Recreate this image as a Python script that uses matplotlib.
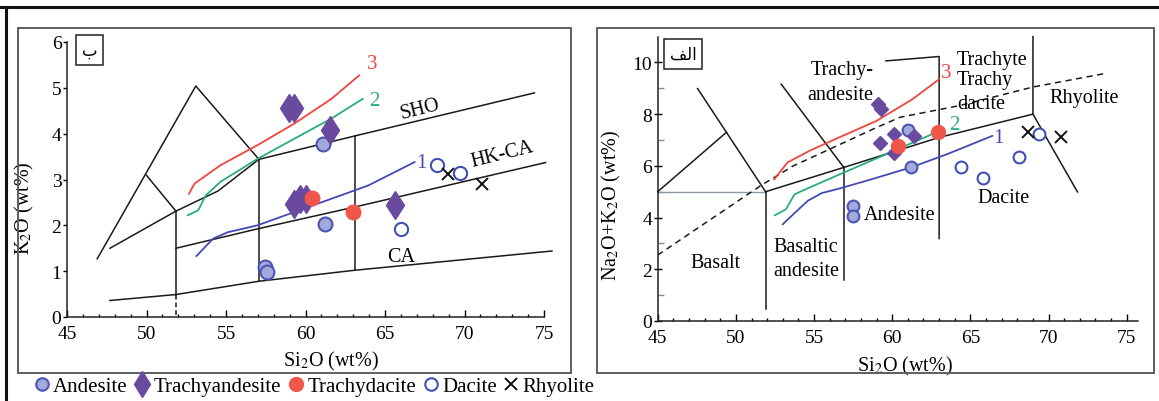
import matplotlib
matplotlib.use('Agg')
import matplotlib.pyplot as plt
from matplotlib.lines import Line2D
from matplotlib.patches import Rectangle

plt.rcParams['font.family'] = ['Liberation Serif', 'DejaVu Sans']
plt.rcParams['mathtext.fontset'] = 'stix'

# ---------------- Left panel data: K2O vs SiO2 ----------------
k_andesite_x = [61.09, 61.23, 57.44, 57.6]
k_andesite_y = [3.78, 2.04, 1.09, 0.98]
k_trachyand_x = [58.95, 59.3, 61.56, 59.3, 59.65, 60.0, 65.63]
k_trachyand_y = [4.55, 4.55, 4.07, 2.47, 2.58, 2.58, 2.44]
k_trachydac_x = [60.42, 62.98]
k_trachydac_y = [2.6, 2.29]
k_dacite_x = [68.3, 69.72, 66.0]
k_dacite_y = [3.31, 3.15, 1.91]
k_rhyolite_x = [68.95, 71.1]
k_rhyolite_y = [3.13, 2.91]

# trend curves (left)
k_c3_x = [52.67, 53.02, 54.65, 56.98, 59.30, 61.63, 63.37]
k_c3_y = [2.69, 2.91, 3.31, 3.75, 4.22, 4.76, 5.27]
k_c2_x = [52.6, 53.26, 53.72, 54.65, 56.98, 59.3, 61.63, 63.6]
k_c2_y = [2.22, 2.33, 2.65, 2.95, 3.45, 3.89, 4.33, 4.76]
k_c1_x = [53.14, 54.19, 55.12, 56.98, 59.3, 61.63, 63.95, 66.86]
k_c1_y = [1.33, 1.71, 1.85, 2.0, 2.29, 2.58, 2.87, 3.38]

# boundaries (left)
k_peak_x = [46.9, 53.1, 57.07]
k_peak_y = [1.27, 5.04, 3.44]
k_inner_x = [50.0, 51.85]
k_inner_y = [3.09, 2.31]
k_sho_x = [47.7, 51.85, 54.5, 57.07, 63.1, 74.4]
k_sho_y = [1.5, 2.31, 2.75, 3.44, 3.95, 4.89]
k_hk_x = [51.85, 57.07, 63.1, 75.1]
k_hk_y = [1.5, 1.93, 2.4, 3.37]
k_ca_x = [47.7, 51.85, 57.07, 63.1, 75.5]
k_ca_y = [0.36, 0.49, 0.78, 1.02, 1.44]
k_v52_x = [51.85, 51.85]
k_v52_y = [2.31, 0.49]
k_v52d_y = [0.49, 0.0]
k_v57_x = [57.07, 57.07]
k_v57_y = [3.44, 0.78]
k_v63_x = [63.1, 63.1]
k_v63_y = [3.95, 1.02]

# ---------------- Right panel data: TAS ----------------
t_andesite_x = [61.2, 61.0, 57.5, 57.5]
t_andesite_y = [5.94, 7.38, 4.45, 4.06]
t_trachyand_x = [59.1, 59.3, 59.2, 60.1, 60.1, 61.4]
t_trachyand_y = [8.39, 8.19, 6.9, 7.23, 6.49, 7.16]
t_trachydac_x = [60.4, 62.9]
t_trachydac_y = [6.77, 7.32]
t_dacite_x = [64.4, 65.8, 68.1, 69.4]
t_dacite_y = [5.94, 5.55, 6.36, 7.23]
t_rhyolite_x = [68.7, 70.8]
t_rhyolite_y = [7.32, 7.10]

t_c3_x = [52.45, 53.3, 54.7, 56.6, 59.0, 61.3, 63.0]
t_c3_y = [5.48, 6.13, 6.58, 7.1, 7.74, 8.58, 9.35]
t_c2_x = [52.5, 53.2, 53.75, 54.7, 56.9, 60.1, 62.3, 63.3]
t_c2_y = [4.09, 4.32, 4.9, 5.16, 5.74, 6.58, 7.16, 7.45]
t_c1_x = [53.0, 53.8, 54.6, 55.5, 56.6, 58.5, 61.2, 63.5, 66.4]
t_c1_y = [3.74, 4.2, 4.65, 4.95, 5.12, 5.45, 5.94, 6.45, 7.16]

t_bash_x = [45.0, 51.9]
t_bash_y = [5.0, 5.0]
t_basdiag_x = [45.0, 49.4]
t_basdiag_y = [5.0, 7.3]
t_basr_x = [47.55, 51.9]
t_basr_y = [8.99, 5.0]
t_bar_x = [52.9, 56.9]
t_bar_y = [9.16, 5.94]
t_alk_x = [51.9, 56.9, 63.0, 69.0]
t_alk_y = [5.0, 5.94, 7.1, 8.0]
t_v52_x = [51.9, 51.9]
t_v52_y = [5.0, 0.48]
t_v57_x = [56.9, 56.9]
t_v57_y = [5.94, 1.57]
t_v63_x = [59.6, 63.0, 63.0]
t_v63_y = [10.06, 10.23, 3.19]
t_v69_x = [69.0, 69.0, 71.85]
t_v69_y = [11.0, 8.0, 4.99]
t_dash_x = [45.0, 51.65, 53.67, 55.8, 58.8, 60.5, 64.3, 69.0, 73.5]
t_dash_y = [2.55, 5.26, 6.0, 6.59, 7.43, 7.88, 8.33, 9.05, 9.56]

legend_labels = ['Andesite', 'Trachyandesite', 'Trachydacite', 'Dacite', 'Rhyolite']

# ---------------- styles ----------------
C_AND_F = '#a3aadb'
C_AND_E = '#4b55b3'
C_TA = '#6a4a9e'
C_TD = '#f1564b'
C_DAC = '#4250b5'
C_RED = '#f0443c'
C_GRN = '#27ad7c'
C_BLU = '#4449b3'
LC = '#1a1a1a'

W, H = 1159, 402
fig = plt.figure(figsize=(W / 100, H / 100), dpi=100)
fig.patch.set_facecolor('white')

# outer figure border
fig.add_artist(Line2D([0, 1], [1 - 8 / H, 1 - 8 / H], transform=fig.transFigure, color='#111111', lw=2.2))
fig.add_artist(Line2D([6 / W, 6 / W], [0, 1 - 8 / H], transform=fig.transFigure, color='#111111', lw=2.2))
# panel frames
fig.add_artist(Rectangle((18 / W, (H - 374) / H), 553 / W, 345 / H, transform=fig.transFigure,
                         fill=False, edgecolor='#59605f', lw=1.4))
fig.add_artist(Rectangle((597 / W, (H - 374) / H), 557 / W, 345 / H, transform=fig.transFigure,
                         fill=False, edgecolor='#59605f', lw=1.4))

axL = fig.add_axes([67 / W, (H - 318) / H, 477 / W, 275 / H])
axR = fig.add_axes([657.7 / W, (H - 322) / H, 480 / W, 284.4 / H])

for ax in (axL, axR):
    ax.set_facecolor('none')
    for s in ('top', 'right'):
        ax.spines[s].set_visible(False)
    for s in ('left', 'bottom'):
        ax.spines[s].set_color('#222222')
        ax.spines[s].set_linewidth(1.1)
    ax.set_xticks([45, 50, 55, 60, 65, 70, 75])
    ax.set_xticks(range(45, 76), minor=True)
    ax.tick_params(axis='x', which='major', direction='in', length=5, width=1, labelsize=14, pad=5.5)
    ax.tick_params(axis='x', which='minor', direction='in', length=2.5, width=1)

lw_b = 1.1

# ---------- Left panel ----------
axL.set_xlim(45, 75)
axL.set_ylim(0, 6)
axL.set_yticks([0, 1, 2, 3, 4, 5, 6])
axL.tick_params(axis='y', which='major', direction='out', length=3, width=1, labelsize=14, pad=1)

for xs, ys in [(k_peak_x, k_peak_y), (k_inner_x, k_inner_y), (k_sho_x, k_sho_y),
               (k_hk_x, k_hk_y), (k_ca_x, k_ca_y), (k_v52_x, k_v52_y),
               (k_v57_x, k_v57_y), (k_v63_x, k_v63_y)]:
    axL.plot(xs, ys, color=LC, lw=lw_b, clip_on=False)
axL.plot(k_v52_x, k_v52d_y, color=LC, lw=lw_b, ls=(0, (3, 2)), clip_on=False)

axL.plot(k_c3_x, k_c3_y, color=C_RED, lw=1.3)
axL.plot(k_c2_x, k_c2_y, color=C_GRN, lw=1.3)
axL.plot(k_c1_x, k_c1_y, color=C_BLU, lw=1.3)
axL.text(64.2, 5.53, '3', color=C_RED, fontsize=15, ha='center', va='center')
axL.text(64.3, 4.73, '2', color=C_GRN, fontsize=15, ha='center', va='center')
axL.text(67.3, 3.38, '1', color=C_BLU, fontsize=15, ha='center', va='center')

axL.plot(k_andesite_x, k_andesite_y, 'o', ms=10, mfc=C_AND_F, mec=C_AND_E, mew=1.5, ls='none', zorder=5)
axL.plot(k_trachyand_x, k_trachyand_y, 'd', ms=14.5, mfc=C_TA, mec=C_TA, ls='none', zorder=5)
axL.plot(k_trachydac_x, k_trachydac_y, 'o', ms=10.5, mfc=C_TD, mec=C_TD, ls='none', zorder=6)
axL.plot(k_dacite_x, k_dacite_y, 'o', ms=9.5, mfc='white', mec=C_DAC, mew=1.5, ls='none', zorder=5)
axL.plot(k_rhyolite_x, k_rhyolite_y, 'x', ms=8, mec='#111111', mew=1.4, ls='none', zorder=6)

axL.text(67.2, 4.55, 'SHO', fontsize=14.5, rotation=14, ha='center', va='center')
axL.text(72.4, 3.56, 'HK-CA', fontsize=14.5, rotation=14, ha='center', va='center')
axL.text(66.0, 1.31, 'CA', fontsize=14.5, ha='center', va='center')

axL.set_xlabel('Si$_2$O (wt%)', fontsize=14.5)
axL.xaxis.set_label_coords(0.554, -0.118)
axL.set_ylabel('K$_2$O (wt%)', fontsize=14.5)
axL.yaxis.set_label_coords(-0.066, 0.40)
axL.text(0.047, 0.972, '\u0628', transform=axL.transAxes, fontsize=12, family='DejaVu Sans',
         ha='center', va='center',
         bbox=dict(boxstyle='square,pad=0.35', fc='white', ec='#222222', lw=1.1), clip_on=False)

# ---------- Right panel ----------
axR.set_xlim(45, 75.7)
axR.set_ylim(0, 11)
axR.set_yticks([0, 2, 4, 6, 8, 10])
axR.set_yticks([1, 3, 5, 7, 9], minor=True)
axR.tick_params(axis='y', which='major', direction='inout', length=6, width=1, labelsize=14, pad=1)
axR.tick_params(axis='y', which='minor', direction='in', length=4, width=1, color='#888888')

axR.plot(t_bash_x, t_bash_y, color='#8c9aa6', lw=1.0)
for xs, ys in [(t_basdiag_x, t_basdiag_y), (t_basr_x, t_basr_y), (t_bar_x, t_bar_y),
               (t_alk_x, t_alk_y), (t_v52_x, t_v52_y), (t_v57_x, t_v57_y),
               (t_v63_x, t_v63_y), (t_v69_x, t_v69_y)]:
    axR.plot(xs, ys, color=LC, lw=lw_b, clip_on=False)
axR.plot(t_dash_x, t_dash_y, color=LC, lw=1.1, ls=(0, (4, 3)))

axR.plot(t_c3_x, t_c3_y, color=C_RED, lw=1.3)
axR.plot(t_c2_x, t_c2_y, color=C_GRN, lw=1.3)
axR.plot(t_c1_x, t_c1_y, color=C_BLU, lw=1.3)
axR.text(63.45, 9.61, '3', color=C_RED, fontsize=15, ha='center', va='center')
axR.text(63.95, 7.61, '2', color=C_GRN, fontsize=15, ha='center', va='center')
axR.text(66.8, 7.1, '1', color=C_BLU, fontsize=15, ha='center', va='center')

axR.plot(t_andesite_x, t_andesite_y, 'o', ms=8.5, mfc=C_AND_F, mec=C_AND_E, mew=1.5, ls='none', zorder=5)
axR.plot(t_trachyand_x, t_trachyand_y, 'D', ms=7.5, mfc=C_TA, mec=C_TA, ls='none', zorder=5)
axR.plot(t_trachydac_x, t_trachydac_y, 'o', ms=10, mfc=C_TD, mec=C_TD, ls='none', zorder=6)
axR.plot(t_dacite_x, t_dacite_y, 'o', ms=8.5, mfc='white', mec=C_DAC, mew=1.5, ls='none', zorder=5)
axR.plot(t_rhyolite_x, t_rhyolite_y, 'x', ms=8, mec='#111111', mew=1.4, ls='none', zorder=6)

rfs = 14.5
axR.text(56.8, 9.74, 'Trachy-', fontsize=rfs, ha='center', va='center')
axR.text(56.7, 8.77, 'andesite', fontsize=rfs, ha='center', va='center')
axR.text(66.4, 10.13, 'Trachyte', fontsize=rfs, ha='center', va='center')
axR.text(65.9, 9.35, 'Trachy', fontsize=rfs, ha='center', va='center')
axR.text(65.7, 8.43, 'dacite', fontsize=rfs, ha='center', va='center')
axR.text(72.3, 8.65, 'Rhyolite', fontsize=rfs, ha='center', va='center')
axR.text(60.5, 4.13, 'Andesite', fontsize=rfs, ha='center', va='center')
axR.text(67.1, 4.77, 'Dacite', fontsize=rfs, ha='center', va='center')
axR.text(54.5, 2.9, 'Basaltic', fontsize=rfs, ha='center', va='center')
axR.text(54.5, 1.94, 'andesite', fontsize=rfs, ha='center', va='center')
axR.text(48.7, 2.26, 'Basalt', fontsize=rfs, ha='center', va='center')

axR.set_xlabel('Si$_2$O (wt%)', fontsize=14.5)
axR.xaxis.set_label_coords(0.516, -0.117)
axR.set_ylabel('Na$_2$O+K$_2$O (wt%)', fontsize=14.5)
axR.yaxis.set_label_coords(-0.073, 0.41)
axR.text(0.053, 0.939, '\uFED2\uFEDF\u0627', transform=axR.transAxes, fontsize=12, family='DejaVu Sans',
         ha='center', va='center',
         bbox=dict(boxstyle='square,pad=0.35', fc='white', ec='#222222', lw=1.1), clip_on=False)

# ---------- Legend ----------
handles = [
    Line2D([], [], marker='o', ms=9, mfc=C_AND_F, mec=C_AND_E, mew=1.5, ls='none'),
    Line2D([], [], marker='d', ms=13, mfc=C_TA, mec=C_TA, ls='none'),
    Line2D([], [], marker='o', ms=10, mfc=C_TD, mec=C_TD, ls='none'),
    Line2D([], [], marker='o', ms=9, mfc='white', mec=C_DAC, mew=1.5, ls='none'),
    Line2D([], [], marker='x', ms=8, mec='#111111', mew=1.4, ls='none'),
]
fig.legend(handles, legend_labels, loc='center', bbox_to_anchor=(314 / W, (H - 387) / H), ncol=5,
           frameon=False, fontsize=15, handlelength=0.8, handletextpad=0.15, columnspacing=0.3,
           borderpad=0, borderaxespad=0)

fig.savefig('out.png', dpi=100, facecolor='white')
